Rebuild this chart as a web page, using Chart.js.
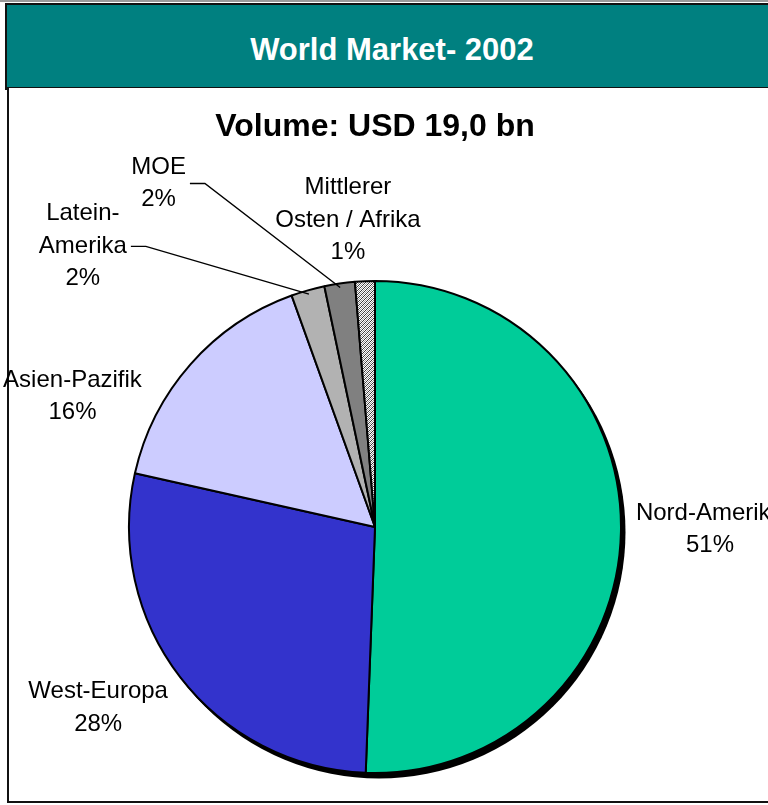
<!DOCTYPE html>
<html>
<head>
<meta charset="utf-8">
<script src="https://cdn.jsdelivr.net/npm/chart.js@4/dist/chart.umd.min.js"></script>
<style>
  html, body { margin: 0; padding: 0; background: #fff; overflow: hidden; }
  body { width: 768px; height: 805px; position: relative; font-family: "Liberation Sans", Arial, sans-serif; }
  #topline { position: absolute; left: 0; top: 0; width: 768px; height: 2px; background: #9a9a9a; }
  #header {
    position: absolute; left: 5px; top: 3px; width: 790px; height: 83px;
    background: #008080; border: 2px solid #111; box-sizing: content-box;
    color: #fff; font-weight: bold; font-size: 31px; line-height: 83px;
  }
  #header span { position: absolute; left: 0; top: 3px; width: 770px; text-align: center; }
  #frame {
    position: absolute; left: 7px; top: 87px; width: 800px; height: 713px;
    border: 2px solid #111; border-top-width: 1px; background: #fff;
  }
  #wrap { position: absolute; left: 0; top: 0; width: 768px; height: 805px; }
</style>
</head>
<body>
<div id="topline"></div>
<div id="header"><span>World Market- 2002</span></div>
<div id="frame"></div>
<div id="wrap"><canvas id="chart" width="768" height="805"></canvas></div>
<script>
// Market share by region, 2002 (percent of USD 19,0 bn)
const regions = ['Nord-Amerika', 'West-Europa', 'Asien-Pazifik', 'Latein-\nAmerika', 'MOE', 'Mittlerer\nOsten / Afrika'];
const shares = [50.6, 27.9, 16.0, 2.2, 2.0, 1.3];
const shareLabels = ['51%', '28%', '16%', '2%', '2%', '1%'];

// Label block offsets from the slice's outer mid point, and whether a leader line is drawn
const labelOffsets = [[89, -4], [-82, 29], [-118, 30], [-225, -46], [-181, -102], [-17, -63]];
const labelLeaders = [false, false, false, true, true, false];

// Fine hatch used for the smallest slice
function makeHatch() {
    const c = document.createElement('canvas');
    c.width = 4; c.height = 4;
    const g = c.getContext('2d');
    g.fillStyle = '#ffffff';
    g.fillRect(0, 0, 4, 4);
    g.fillStyle = '#3a3a3a';
    for (let i = 0; i < 4; i++) g.fillRect(i, 3 - i, 1, 1);
    g.fillStyle = '#9a9a9a';
    for (let i = 0; i < 4; i++) g.fillRect(i, (5 - i) % 4, 1, 1);
    return g.createPattern(c, 'repeat');
}

const ctx = document.getElementById('chart').getContext('2d');
const sliceColors = ['#00CC99', '#3333CC', '#CCCCFF', '#B2B2B2', '#808080', makeHatch()];

// Black drop shadow under the pie
const shadowPlugin = {
    id: 'pieShadow',
    beforeDatasetsDraw(chart) {
        const arc = chart.getDatasetMeta(0).data[0];
        if (!arc) return;
        const c = chart.ctx;
        c.save();
        c.fillStyle = '#000';
        c.beginPath();
        c.arc(arc.x + 4, arc.y + 5, arc.outerRadius + 0.5, 0, Math.PI * 2);
        c.fill();
        c.restore();
    }
};

// Region labels with percentages, leader lines for the small slices
const labelPlugin = {
    id: 'sliceLabels',
    afterDatasetsDraw(chart) {
        const c = chart.ctx;
        const lineH = 32.5;
        c.save();
        c.font = '24px "Liberation Sans", Arial, sans-serif';
        c.fillStyle = '#000';
        c.textAlign = 'center';
        c.textBaseline = 'alphabetic';
        chart.getDatasetMeta(0).data.forEach((arc, i) => {
            const mid = (arc.startAngle + arc.endAngle) / 2;
            const ox = arc.x + Math.cos(mid) * arc.outerRadius;
            const oy = arc.y + Math.sin(mid) * arc.outerRadius;
            const cx = ox + labelOffsets[i][0];
            const cy = oy + labelOffsets[i][1];
            const lines = regions[i].split('\n').concat([shareLabels[i]]);
            let maxW = 0;
            lines.forEach((t, k) => {
                const y = cy + (k - (lines.length - 1) / 2) * lineH + 8.5;
                c.fillText(t, cx, y);
                maxW = Math.max(maxW, c.measureText(t).width);
            });
            if (labelLeaders[i]) {
                const sx = cx + maxW / 2 + 4;
                const sy = cy + 2;
                const ex = arc.x + Math.cos(mid) * (arc.outerRadius - 4);
                const ey = arc.y + Math.sin(mid) * (arc.outerRadius - 4);
                c.strokeStyle = '#000';
                c.lineWidth = 1.4;
                c.beginPath();
                c.moveTo(sx, sy);
                c.lineTo(sx + 15, sy);
                c.lineTo(ex, ey);
                c.stroke();
            }
        });
        c.restore();
    }
};

new Chart(ctx, {
    type: 'pie',
    data: {
        labels: regions,
        datasets: [{
            data: shares,
            backgroundColor: sliceColors,
            borderColor: '#000',
            borderWidth: 2,
            hoverOffset: 0,
            radius: 246,
            clip: false
        }]
    },
    options: {
        responsive: false,
        animation: false,
        layout: { padding: { left: 0, right: 18, top: 0, bottom: 20 } },
        plugins: {
            legend: { display: false },
            tooltip: { enabled: false },
            title: {
                display: true,
                text: 'Volume: USD 19,0 bn',
                color: '#000',
                font: { family: '"Liberation Sans", Arial, sans-serif', size: 32, weight: 'bold' },
                padding: { top: 108, bottom: 122.6 }
            }
        }
    },
    plugins: [shadowPlugin, labelPlugin]
});
</script>
</body>
</html>
